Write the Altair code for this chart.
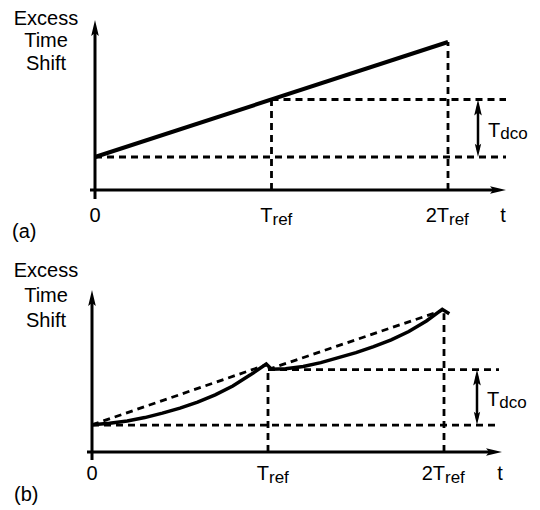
import altair as alt
import pandas as pd

# ---------------- data ----------------
tick_t = [0, 1, 2]
tick_main = ["0", "T", "2T"]
tick_sub = ["", "ref", "ref"]
title_lines = ["Excess", "Time", "Shift"]
panel_tags = ["(a)", "(b)"]
dco_main, dco_sub = "T", "dco"
t_label = "t"

# panel (a): linear excess time shift
a_t = [0.0, 2.0]
a_shift = [0.574, 2.574]
a_levels = [0.574, 1.574]

# panel (b): curved excess time shift with resets at each Tref
b_t = [0.0, 0.1, 0.2, 0.3, 0.4, 0.5, 0.6, 0.7, 0.8, 0.9, 0.99, 1.02,
       1.1, 1.2, 1.3, 1.4, 1.5, 1.6, 1.7, 1.8, 1.9, 1.99, 2.03]
b_shift = [0.49, 0.52, 0.56, 0.62, 0.70, 0.79, 0.90, 1.03, 1.19, 1.39, 1.585, 1.49,
           1.50, 1.54, 1.61, 1.70, 1.79, 1.90, 2.02, 2.17, 2.36, 2.57, 2.49]
b_levels = [0.486, 1.486]
b_ramp_t = [[0.0, 0.99], [1.0, 1.99]]
b_ramp_shift = [[0.49, 1.57], [1.486, 2.55]]

# ---------------- style ----------------
W = 524
FONT = "Liberation Sans"
BIG = 20
SMALL = 17
K = "#000000"
UP = "M0,0L0.5,2.1L0,1.7L-0.5,2.1Z"
DOWN = "M0,0L0.5,-2.1L0,-1.7L-0.5,-2.1Z"
RIGHT = "M0,0L-2.1,-0.5L-1.7,0L-2.1,0.5Z"


def build(cfg, line_t, line_y, levels, ramps, tag, line_width):
    x0, kx, y0, ky, top, H = cfg["x0"], cfg["kx"], cfg["y0"], cfg["ky"], cfg["top"], cfg["H"]

    def tx(px):
        return (px - x0) / kx

    def ty(py):
        return (y0 - py) / ky

    xs = alt.Scale(domain=[tx(8), tx(8 + W)], nice=False, zero=False)
    ys = alt.Scale(domain=[ty(top + H), ty(top)], nice=False, zero=False)
    X = alt.X("t:Q", scale=xs, axis=None)
    Y = alt.Y("y:Q", scale=ys, axis=None)

    def rules(rows, **kw):
        df = pd.DataFrame(rows, columns=["t", "y", "t2", "y2"])
        return alt.Chart(df).mark_rule(color=K, strokeCap="butt", **kw).encode(
            x=X, y=Y, x2="t2:Q", y2="y2:Q")

    def heads(rows, shape, size):
        df = pd.DataFrame(rows, columns=["t", "y"])
        return alt.Chart(df).mark_point(shape=shape, size=size, filled=True, color=K,
                                        opacity=1, strokeWidth=0).encode(x=X, y=Y)

    def texts(rows, size, align):
        df = pd.DataFrame([(tx(px), ty(py), s) for px, py, s in rows], columns=["t", "y", "s"])
        return alt.Chart(df).mark_text(font=FONT, fontSize=size, align=align,
                                       baseline="alphabetic", color=K).encode(
            x=X, y=Y, text="s:N")

    xa0, xtip = cfg["xaxis"]
    yb0, ytip = cfg["yaxis"]
    dash_end = tx(cfg["dash_end"])
    td = tx(cfg["tdco"])
    lo, hi = levels

    axes = rules([(tx(xa0), 0, tx(xtip - 10), 0),
                  (0, ty(yb0), 0, ty(ytip + 10))], strokeWidth=3)
    dashed_rows = [(0, lo, dash_end, lo), (1, hi, dash_end, hi),
                   (1, 0, 1, hi), (2, 0, 2, cfg["v2top"])]
    for rt, ry in ramps:
        dashed_rows.append((rt[0], ry[0], rt[1], ry[1]))
    dashed = rules(dashed_rows, strokeWidth=2.8, strokeDash=[7, 5])
    tdco_rule = rules([(td, lo + 0.12, td, hi - 0.12)], strokeWidth=2.5)

    line_df = pd.DataFrame({"t": line_t, "y": line_y, "o": list(range(len(line_t)))})
    curve = alt.Chart(line_df).mark_line(color=K, strokeWidth=line_width,
                                         strokeJoin="miter").encode(
        x=X, y=Y, order="o:Q")

    h_up = heads([(0, ty(ytip)), (td, hi)], UP, 231)
    h_right = heads([(tx(xtip), 0)], RIGHT, 231)
    h_down = heads([(td, lo)], DOWN, 160)

    lb = cfg["label_base"]
    tick_px = [x0 + kx * t for t in tick_t]
    mid = y0 - ky * (lo + hi) / 2
    big_center = [(46, cfg["title_base"][i], s) for i, s in enumerate(title_lines)]
    big_center += [(tick_px[0], lb, tick_main[0]), (cfg["t_x"], lb, t_label)]
    big_right = [(tick_px[i] + 1, lb, tick_main[i]) for i in (1, 2)]
    big_left = [(cfg["tag"][0], cfg["tag"][1], tag),
                (cfg["tdco"] + 10, mid + 9, dco_main)]
    small_left = [(tick_px[i] + 1, lb + 2.5, tick_sub[i]) for i in (1, 2)]
    small_left += [(cfg["tdco"] + 10 + 0.611 * BIG, mid + 11, dco_sub)]

    layers = [dashed, axes, tdco_rule, curve, h_up, h_right, h_down,
              texts(big_center, BIG, "center"), texts(big_right, BIG, "right"),
              texts(big_left, BIG, "left"), texts(small_left, SMALL, "left")]
    return alt.layer(*layers).properties(width=W, height=H)


cfg_a = dict(x0=95, kx=176.5, y0=190, ky=57.5, top=8, H=247,
             xaxis=(90, 506), yaxis=(199, 20), dash_end=506, tdco=478, v2top=2.574,
             label_base=222, title_base=[24.5, 47, 69.5], t_x=503, tag=(12, 238))
cfg_b = dict(x0=92, kx=176, y0=452, ky=55.5, top=255, H=243,
             xaxis=(87, 502), yaxis=(460, 290), dash_end=499, tdco=477, v2top=2.5,
             label_base=480, title_base=[277, 302, 327], t_x=500, tag=(14, 501))

pa = build(cfg_a, a_t, a_shift, a_levels, [], panel_tags[0], 4)
pb = build(cfg_b, b_t, b_shift, b_levels, list(zip(b_ramp_t, b_ramp_shift)), panel_tags[1], 3.5)

chart = alt.vconcat(pa, pb, spacing=0, padding=0).configure_view(stroke=None)
chart.save("out.html", embed_options={"renderer": "svg", "actions": False})
